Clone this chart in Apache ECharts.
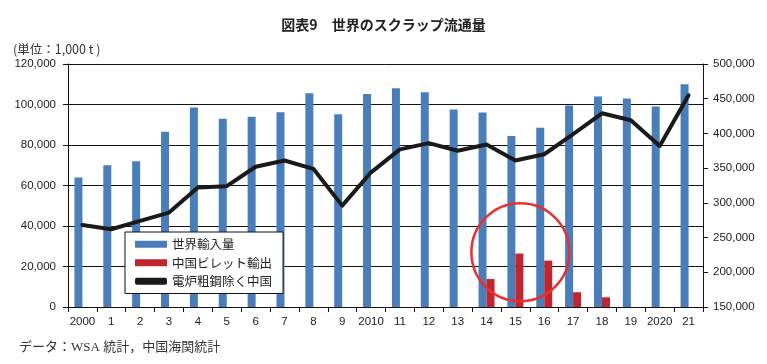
<!DOCTYPE html>
<html>
<head>
<meta charset="utf-8">
<script src="https://cdn.jsdelivr.net/npm/echarts@6/dist/echarts.min.js"></script>
<style>
html,body{margin:0;padding:0;background:#fff;}
#main{width:767px;height:364px;}
</style>
</head>
<body>
<div id="main"></div>
<script>
const categories = ['2000','1','2','3','4','5','6','7','8','9','2010','11','12','13','14','15','16','17','18','19','2020','21'];
const worldImports = [64000,70000,72000,86500,98500,93000,94000,96200,105500,95200,105200,108000,106000,97500,96000,84500,88500,99500,104000,103000,99000,110000];
const chinaBilletExports = [null,null,null,null,null,null,null,null,null,null,null,null,null,null,13800,26400,22900,7300,4800,null,null,null];
const eafSteelExChina = [268000,262000,274000,286000,322000,324000,352000,361000,349000,296000,344000,377000,386000,375000,384000,361000,370000,399000,429000,419000,382000,455000];
const leftTicks = {min:0, max:120000, interval:20000};
const rightTicks = {min:150000, max:500000, interval:50000};
const seriesNames = ['世界輸入量','中国ビレット輸出','電炉粗鋼除く中国'];

const NUM = "'Liberation Sans', Arial, 'Noto Sans CJK JP', sans-serif";
const JP = "'Noto Sans CJK JP', sans-serif";
const SERIF = "'Liberation Serif', 'DejaVu Serif', 'Noto Sans CJK JP', serif";
const fmt = v => v.toString().replace(/\B(?=(\d{3})+(?!\d))/g, ',');

const chart = echarts.init(document.getElementById('main'), null, {renderer:'canvas'});
chart.setOption({
  animation: false,
  backgroundColor: '#fff',
  title: [
    {text: '図表9　世界のスクラップ流通量', left: 'center', top: 13,
     textStyle: {fontFamily: JP, fontSize: 14, fontWeight: 'bold', color: '#222'}},
    {text: '(単位：1,000 t )', left: 8, top: 38,
     textStyle: {fontFamily: JP, fontSize: 12.5, fontWeight: 'normal', color: '#333'}},
    {text: 'データ：WSA 統計，中国海関統計', left: 14, top: 336,
     textStyle: {fontFamily: SERIF, fontSize: 13, fontWeight: 'normal', color: '#333'}}
  ],
  grid: {left: 68, right: 64, top: 64, bottom: 57, containLabel: false},
  legend: {
    orient: 'vertical', left: 125, top: 232,
    backgroundColor: '#fff', borderColor: '#111', borderWidth: 1,
    padding: [6, 11, 6, 10],
    itemWidth: 32, itemHeight: 7, itemGap: 6,
    textStyle: {fontFamily: JP, fontSize: 12.5, color: '#222'},
    data: [
      {name: seriesNames[0], icon: 'rect'},
      {name: seriesNames[1], icon: 'rect'},
      {name: seriesNames[2], icon: 'roundRect', itemStyle: {color: '#1a1a1a'}}
    ]
  },
  xAxis: {
    type: 'category', data: categories, boundaryGap: true,
    axisLine: {lineStyle: {color: '#111', width: 1}},
    axisTick: {show: true, interval: 0, length: 5, lineStyle: {color: '#111'}},
    axisLabel: {interval: 0, margin: 9, fontFamily: NUM, fontSize: 11.5, color: '#222'}
  },
  yAxis: [
    {type: 'value', min: leftTicks.min, max: leftTicks.max, interval: leftTicks.interval,
     axisLine: {show: true, lineStyle: {color: '#111'}},
     axisTick: {show: true, length: 5, lineStyle: {color: '#111'}},
     axisLabel: {margin: 12, fontFamily: NUM, fontSize: 11.5, color: '#222', formatter: fmt},
     splitLine: {show: true, lineStyle: {color: '#111', width: 1}}},
    {type: 'value', min: rightTicks.min, max: rightTicks.max, interval: rightTicks.interval,
     position: 'right',
     axisLine: {show: true, lineStyle: {color: '#111'}},
     axisTick: {show: true, length: 5, lineStyle: {color: '#111'}},
     axisLabel: {margin: 10, fontFamily: NUM, fontSize: 11.5, color: '#222', formatter: fmt},
     splitLine: {show: false}}
  ],
  series: [
    {name: seriesNames[0], type: 'bar', yAxisIndex: 0, data: worldImports,
     barWidth: 8, barGap: '0%', itemStyle: {color: '#4a7ebb'}, z: 2},
    {name: seriesNames[1], type: 'bar', yAxisIndex: 0, data: chinaBilletExports,
     barWidth: 8, barGap: '0%', itemStyle: {color: '#c0262d'}, z: 2,
     markPoint: {
       symbol: 'circle', symbolSize: 98, symbolOffset: [1, 0], silent: true,
       itemStyle: {color: 'rgba(0,0,0,0)', borderColor: '#e8302e', borderWidth: 2.5},
       label: {show: false},
       data: [{coord: ['15', 27000]}]
     }},
    {name: seriesNames[2], type: 'line', yAxisIndex: 1, data: eafSteelExChina,
     symbol: 'none', lineStyle: {color: '#1a1a1a', width: 4, cap: 'round', join: 'round'},
     itemStyle: {color: '#1a1a1a'}, z: 5}
  ]
});
</script>
</body>
</html>
